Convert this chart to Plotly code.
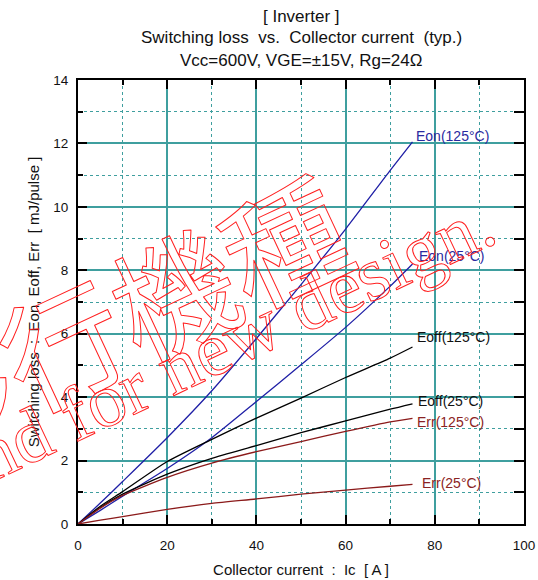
import plotly.graph_objects as go

# ---------------- data ----------------
ic = [0, 5, 10, 20, 30, 40, 50, 60, 70, 75]
eon_125 = [0, 0.66, 1.34, 2.72, 4.20, 5.85, 7.55, 9.30, 11.15, 12.05]
eon_25 = [0, 0.43, 0.88, 1.75, 2.72, 3.86, 5.02, 6.20, 7.50, 8.20]
eoff_125 = [0, 0.56, 1.02, 1.97, 2.67, 3.34, 3.97, 4.62, 5.23, 5.58]
eoff_25 = [0, 0.52, 0.94, 1.57, 2.07, 2.47, 2.88, 3.25, 3.62, 3.79]
err_125 = [0, 0.50, 0.90, 1.47, 1.92, 2.28, 2.60, 2.92, 3.22, 3.33]
err_25 = [0, 0.12, 0.23, 0.46, 0.65, 0.79, 0.94, 1.07, 1.19, 1.25]

series_names = ["Eon(125°C)", "Eon(25°C)", "Eoff(125°C)", "Eoff(25°C)", "Err(125°C)", "Err(25°C)"]
series_values = [eon_125, eon_25, eoff_125, eoff_25, err_125, err_25]

x_tick_vals = [0, 20, 40, 60, 80, 100]
y_tick_vals = [0, 2, 4, 6, 8, 10, 12, 14]

title_lines = ["[ Inverter ]",
               "Switching loss\u00a0 vs.\u00a0 Collector current\u00a0 (typ.)",
               "Vcc=600V, VGE=±15V, Rg=24Ω"]
x_title = "Collector current\u00a0 :\u00a0 Ic\u00a0 [ A ]"
y_title = "Switching loss\u00a0 :\u00a0 Eon, Eoff, Err\u00a0 [ mJ/pulse ]"
wm_jp = "移行機種"
wm_en = "Not recommend for new design."

# ---------------- styles ----------------
BLUE = "#1f1fa6"
BLACK = "#000000"
DRED = "#8b1a1a"
line_colors = [BLUE, BLUE, BLACK, BLACK, DRED, DRED]
label_colors = ["#2a2aa0", "#2a2aa0", "#111111", "#111111", "#8b2323", "#8b2323"]
label_shift = [(1.5, 6), (4, 8), (2.5, 10.5), (3.5, 2.5), (2, -4), (7, 1)]
TEAL = "#3f9f9f"
FONT = "Liberation Sans, Arial, sans-serif"
WM_RED = "#ff2020"

fig = go.Figure()
for name, vals, col in zip(series_names, series_values, line_colors):
    fig.add_trace(go.Scatter(x=ic, y=vals, mode="lines", name=name,
                             line=dict(color=col, width=1.3, shape="spline", smoothing=0.6),
                             showlegend=False, hoverinfo="skip"))
# empty trace carrying the right-hand tick axis
fig.add_trace(go.Scatter(x=[], y=[], yaxis="y2", showlegend=False, hoverinfo="skip"))

for name, vals, col, (dx, dy) in zip(series_names, series_values, label_colors, label_shift):
    fig.add_annotation(x=ic[-1], y=vals[-1], xref="x", yref="y", text=name,
                       showarrow=False, xanchor="left", yanchor="middle",
                       xshift=dx, yshift=dy,
                       font=dict(family=FONT, size=14, color=col))

# title lines
for txt, yy in zip(title_lines, [1.1437, 1.0946, 1.0444]):
    fig.add_annotation(x=0.5, y=yy, xref="paper", yref="paper", text=txt,
                       showarrow=False, xanchor="center", yanchor="middle",
                       font=dict(family=FONT, size=17, color="#111111"))

# watermark (outlined red text; outline applied by the post script below)
fig.add_annotation(x=0.0852, y=0.472, xref="paper", yref="paper", text=wm_jp,
                   showarrow=False, textangle=-25, xanchor="center", yanchor="middle",
                   font=dict(family="Noto Sans CJK JP", size=122, color=WM_RED))
fig.add_annotation(x=-0.0733, y=0.2169, xref="paper", yref="paper", text=wm_en,
                   showarrow=False, textangle=-25.4, xanchor="center", yanchor="middle",
                   font=dict(family="Liberation Serif, Times New Roman, serif", size=76,
                             color=WM_RED))

axis_common = dict(
    showline=True, linewidth=2, linecolor="black", automargin=False,
    ticks="inside", ticklen=9, tickwidth=2, tickcolor="black",
    showgrid=True, gridcolor=TEAL, gridwidth=1.6, zeroline=False,
    tickfont=dict(family=FONT, size=13.5, color="#111111"),
)

fig.update_xaxes(range=[0, 100], tickmode="array", tickvals=x_tick_vals,
                 ticklabelstandoff=8, mirror="ticks",
                 minor=dict(dtick=10, tick0=0, ticks="inside", ticklen=5, tickwidth=1.5,
                            tickcolor="black", showgrid=True, gridcolor=TEAL,
                            griddash="dot", gridwidth=1),
                 title=dict(text=x_title, font=dict(family=FONT, size=15, color="#111111"),
                            standoff=12),
                 **axis_common)
fig.update_layout(yaxis=dict(range=[0, 14], tickmode="array", tickvals=y_tick_vals,
                             ticklabelstandoff=5, mirror=True,
                             minor=dict(dtick=1, tick0=0, ticks="inside", ticklen=5, tickwidth=1.5,
                                        tickcolor="black", showgrid=True, gridcolor=TEAL,
                                        griddash="dot", gridwidth=1),
                             title=dict(text=y_title, font=dict(family=FONT, size=15, color="#111111"),
                                        standoff=10),
                             **axis_common),
                  yaxis2=dict(range=[0, 14], overlaying="y", side="right", anchor="x",
                              tickmode="linear", tick0=0, dtick=1, ticks="inside", ticklen=10,
                              tickwidth=2, tickcolor="black", showticklabels=False,
                              showgrid=False, zeroline=False, showline=False, automargin=False))

fig.update_layout(width=538, height=580, autosize=False,
                  margin=dict(l=78, r=14, t=80, b=56, pad=0),
                  paper_bgcolor="white", plot_bgcolor="white",
                  showlegend=False)

post = """
var gd = document.getElementById('{plot_id}');
function outlineWatermark() {
  gd.querySelectorAll('text.annotation-text').forEach(function (t) {
    var s = t.textContent || '';
    if (s.indexOf('design') >= 0 || s.indexOf('機種') >= 0) {
      t.style.fill = 'none';
      t.style.stroke = '%s';
      t.style.strokeWidth = '1px';
      t.style.strokeLinejoin = 'round';
    }
  });
}
outlineWatermark();
if (gd.on) { gd.on('plotly_afterplot', outlineWatermark); }
""" % WM_RED

fig.write_html("out.html", post_script=post)
